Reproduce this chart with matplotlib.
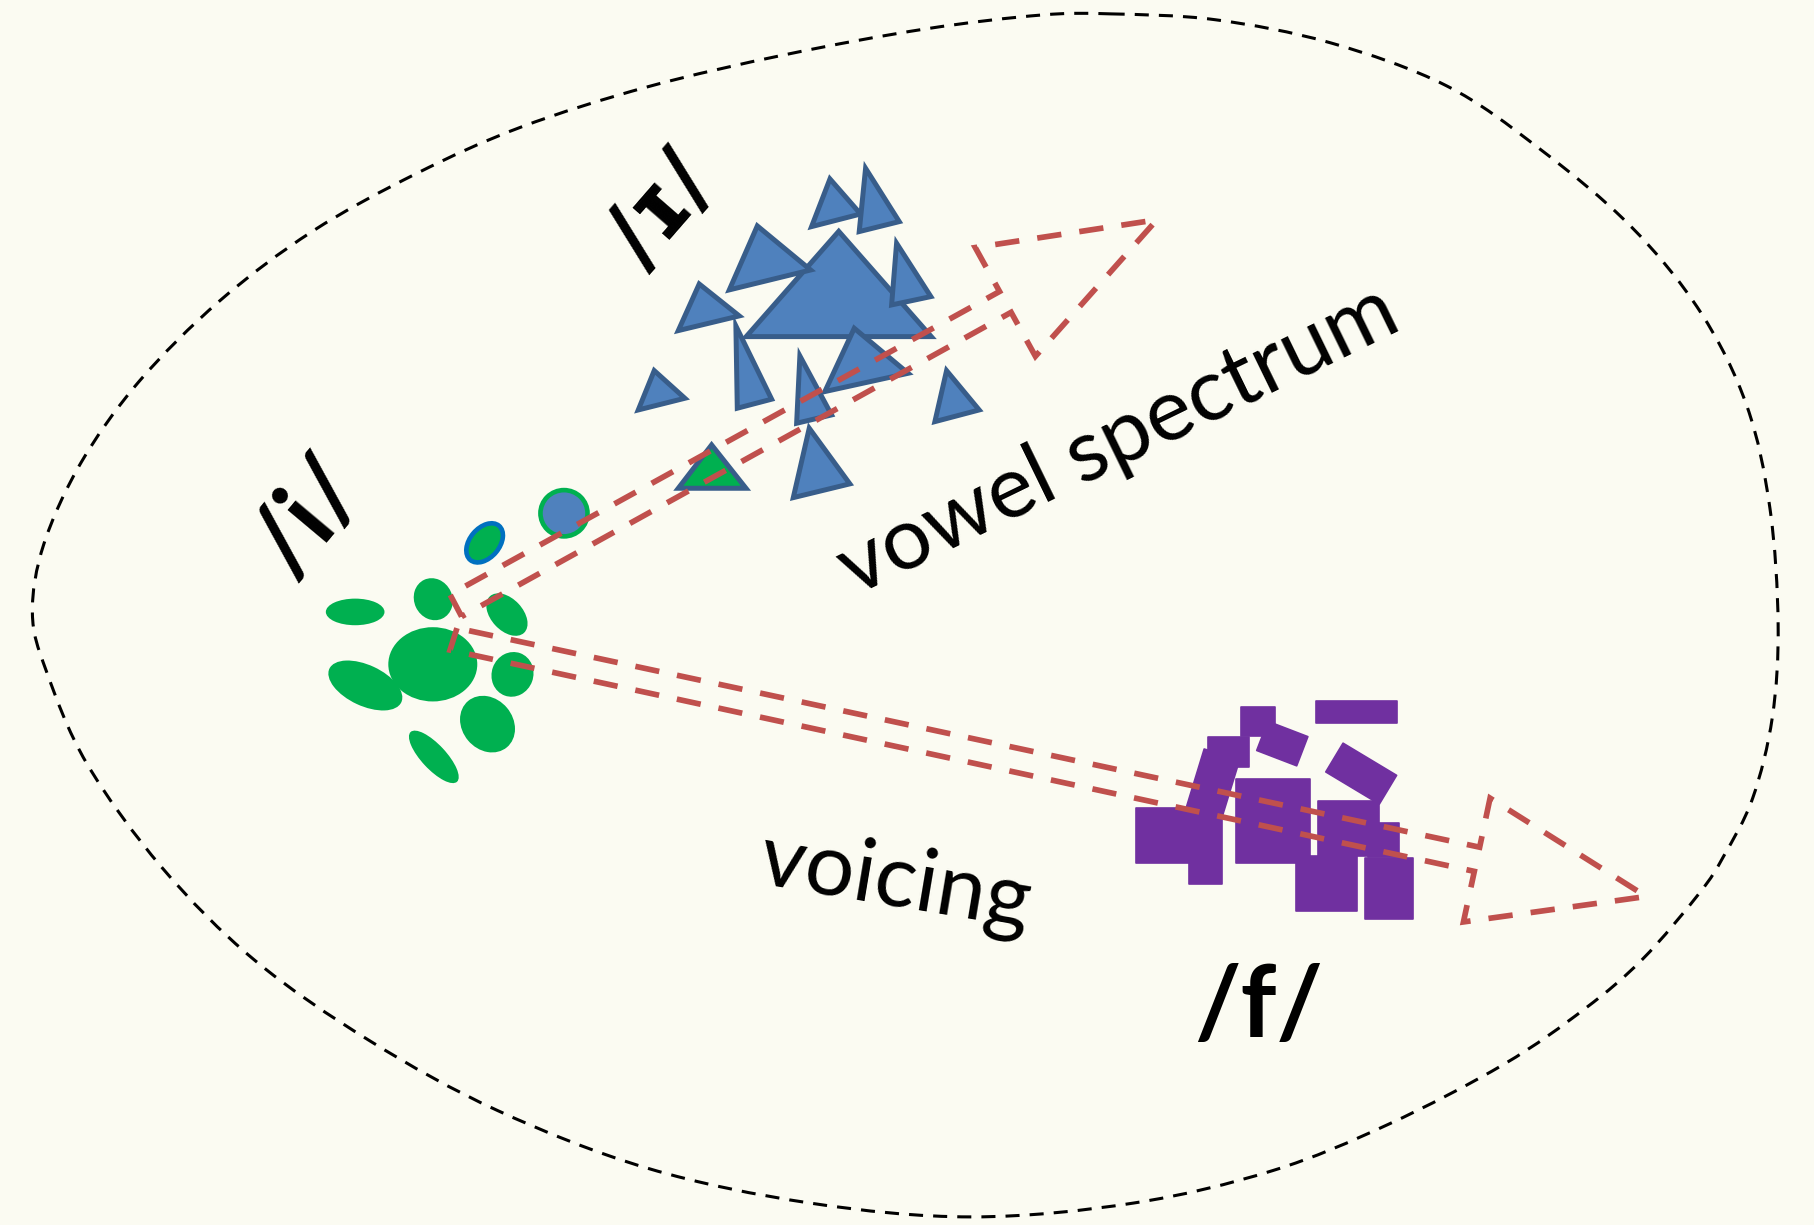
import numpy as np
import matplotlib
matplotlib.use("Agg")
import matplotlib.pyplot as plt
from matplotlib.patches import Ellipse, Polygon, Rectangle, PathPatch
from matplotlib.path import Path

# ---------------- data (reference units: 1568 x 1059 canvas) ----------------
W, H = 1568, 1059
BG = "#FBFBF2"
GREEN = "#00B050"
BLUE = "#4F81BD"
BLUE_EDGE = "#385D8A"
DEEP_BLUE = "#0070C0"
PURPLE = "#7030A0"
RED = "#C0504D"

# dashed outline of the space (closed loop, clockwise from top)
blob_x = [960, 1050, 1150, 1250, 1330, 1410, 1470, 1510, 1530, 1537, 1532, 1515, 1490,
          1469, 1420, 1370, 1300, 1200, 1100, 980, 840, 700, 560, 430, 320, 220, 140,
          75, 40, 28, 38, 70, 120, 190, 270, 360, 450, 560, 680, 800, 900]
blob_y = [12, 17, 37, 74, 128, 196, 270, 351, 440, 540, 620, 690, 740,
          772, 829, 872, 920, 972, 1012, 1040, 1052, 1040, 1010, 960, 900, 830, 750,
          660, 580, 530, 470, 400, 330, 260, 200, 150, 110, 75, 47, 25, 13]

# /i/ tokens: green ellipses
green_x = [307, 374.5, 438.2, 374.1, 315.8, 443, 421.4, 375]
green_y = [529, 518, 531.3, 574.3, 592.6, 583, 626, 654.3]
green_w = [50.7, 33, 43.2, 76.9, 68.6, 36, 52.2, 58.8]
green_h = [23, 37, 27.4, 64.2, 35.3, 39, 43.9, 21.3]
green_ang = [0, -25, 47, 0, 25, 20, 50, 47]

# ambiguous tokens between /i/ and /ɪ/
odd_x = [418.9, 487.5]
odd_y = [469.3, 443.7]
odd_w = [38.6, 40.7]
odd_h = [25.6, 40.0]
odd_ang = [-50, 0]
odd_face = [GREEN, BLUE]
odd_edge = [DEEP_BLUE, GREEN]

# /ɪ/ tokens: triangles (three vertices each)
tri_x = [[725, 645, 805], [654.6, 630.4, 700.7], [604.4, 586.3, 639.0],
         [717.4, 701.5, 743.9], [748.2, 742.7, 777.3], [775.0, 770.7, 804.6],
         [738.4, 713.0, 785.0], [565.5, 551.7, 592.0], [636.1, 637.3, 667.0],
         [691.4, 688.6, 718.8], [818.2, 808.1, 846.4], [699.5, 685.7, 734.6],
         [615.1, 586.3, 644.8]]
tri_y = [[200, 291, 291], [195.3, 250.6, 233.4], [245.5, 285.8, 273.1],
         [154.7, 195.9, 185.0], [145.5, 200.2, 191.6], [210.3, 263.6, 256.4],
         [283.8, 338.5, 322.7], [320.4, 354.4, 344.3], [281.8, 352.9, 345.1],
         [307.7, 365.9, 358.7], [320.4, 364.5, 354.4], [370.2, 430.2, 418.3],
         [384.6, 422.1, 422.1]]
tri_face = [BLUE] * 12 + [GREEN]

# /f/ tokens: purple rectangles (centre, size, rotation)
rect_cx = [1048.3, 1062.0, 1108.4, 1087.4, 1009.1, 1042.0, 1100.2, 1176.6, 1165.5,
           1196.0, 1146.7, 1200.5, 1172.5]
rect_cy = [678.0, 650.3, 642.8, 623.8, 722.2, 732.9, 709.7, 668.8, 716.2,
           726.1, 763.6, 768.2, 615.4]
rect_w = [32, 35.7, 37, 29.8, 55, 28.1, 63.9, 54, 52.3, 27.1, 52.9, 41, 69.5]
rect_h = [54, 26, 27, 24.8, 47, 62.5, 72.1, 29, 47.5, 28.8, 47.3, 52.4, 19.6]
rect_ang = [17, 0, 21, 0, 0, 0, 0, 31, 0, 0, 0, 0, 0]

# dashed block arrows (outline vertices)
arrow_vowel_x = [399, 389, 864, 843, 1000, 895, 874]
arrow_vowel_y = [533, 514, 252, 214, 190, 308, 270]
arrow_voice_x = [395, 389, 1274.4, 1265, 1423, 1288, 1279]
arrow_voice_y = [543, 562, 753.3, 797, 775, 690, 732.4]

# text labels
label_text = ["/\u026a/", "/i/", "/f/"]
label_x = [573, 266.5, 1088]
label_y = [182, 447, 871.5]
label_rot = [49, 50, 0]
label_size = [64, 72, 72]
label_family = [["DejaVu Sans"], ["Lato", "DejaVu Sans"], ["Lato", "DejaVu Sans"]]
axis_text = ["vowel spectrum", "voicing"]
axis_x = [967, 773.6]
axis_y = [381, 762.8]
axis_rot = [26, -9.5]

# ---------------- drawing ----------------
PT = 0.833  # points per reference unit

fig = plt.figure(figsize=(18.14, 12.25), dpi=100)
fig.patch.set_facecolor(BG)
ax = fig.add_axes([0, 0, 1, 1])
ax.set_facecolor(BG)
ax.set_xlim(0, W)
ax.set_ylim(H, 0)
ax.axis("off")

# closed smooth outline (Catmull-Rom -> cubic Bezier)
pts = np.column_stack([blob_x, blob_y]).astype(float)
n = len(pts)
verts = [pts[0]]
codes = [Path.MOVETO]
for i in range(n):
    p0, p1, p2, p3 = pts[(i - 1) % n], pts[i], pts[(i + 1) % n], pts[(i + 2) % n]
    verts += [p1 + (p2 - p0) / 6.0, p2 - (p3 - p1) / 6.0, p2]
    codes += [Path.CURVE4] * 3
ax.add_patch(PathPatch(Path(verts, codes), fill=False, ec="black", lw=2.2,
                       ls=(0, (4.6, 3.3)), zorder=1))

# green ellipses
for x, y, w, h, a in zip(green_x, green_y, green_w, green_h, green_ang):
    ax.add_patch(Ellipse((x, y), w, h, angle=a, fc=GREEN, ec="none", zorder=2))

# ambiguous tokens
for x, y, w, h, a, f, e in zip(odd_x, odd_y, odd_w, odd_h, odd_ang, odd_face, odd_edge):
    ax.add_patch(Ellipse((x, y), w, h, angle=a, fc=f, ec=e, lw=4.0 * PT, zorder=2))

# triangles
for xs, ys, f in zip(tri_x, tri_y, tri_face):
    ax.add_patch(Polygon(np.column_stack([xs, ys]), closed=True, fc=f, ec=BLUE_EDGE,
                         lw=4.3 * PT, joinstyle="miter", zorder=3))

# rectangles
for cx, cy, w, h, a in zip(rect_cx, rect_cy, rect_w, rect_h, rect_ang):
    ax.add_patch(Rectangle((cx - w / 2, cy - h / 2), w, h, angle=a,
                           rotation_point="center", fc=PURPLE, ec=PURPLE,
                           lw=1.2, joinstyle="round", zorder=3))

# dashed block arrows
for xs, ys in [(arrow_vowel_x, arrow_vowel_y), (arrow_voice_x, arrow_voice_y)]:
    ax.add_patch(Polygon(np.column_stack([xs, ys]), closed=True, fill=False, ec=RED,
                         lw=4.9 * PT, ls=(0, (4.3, 3.2)), joinstyle="miter",
                         zorder=5))

# texts
for t, x, y, r, s, fam in zip(label_text, label_x, label_y, label_rot, label_size,
                              label_family):
    ax.text(x, y, t, fontsize=s, fontweight="bold", family=fam,
            rotation=r, ha="center", va="center", color="black", zorder=6)
for t, x, y, r in zip(axis_text, axis_x, axis_y, axis_rot):
    ax.text(x, y, t, fontsize=63, family=["Lato", "DejaVu Sans"],
            rotation=r, ha="center", va="center", color="black", zorder=6)

fig.savefig("out.png", dpi=100, facecolor=BG)
